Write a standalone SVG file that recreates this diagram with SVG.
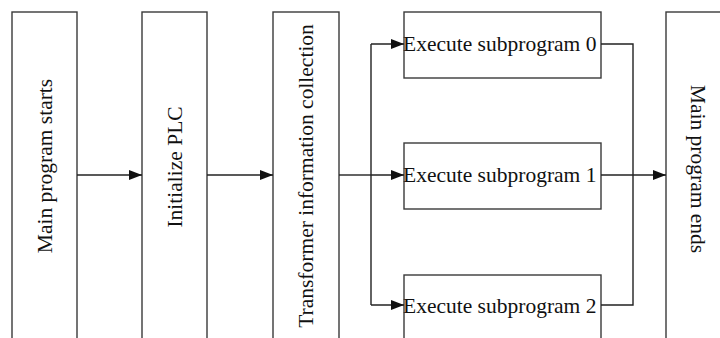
<svg xmlns="http://www.w3.org/2000/svg" width="720" height="338" viewBox="0 0 720 338">
<style>
.box{fill:#fff;stroke:#3a3a3a;stroke-width:1.4}
.t{font-family:"Liberation Serif","Times New Roman",serif;font-size:21.5px;fill:#111}
.c{fill:none;stroke:#222;stroke-width:1.4}
</style>
<defs>
<marker id="ah" markerWidth="14" markerHeight="10" refX="13" refY="5" orient="auto" markerUnits="userSpaceOnUse">
<path d="M0,0 L13,5 L0,10 Z" fill="#111"/>
</marker>
</defs>
<rect width="720" height="338" fill="#fff"/>
<g id="n-start">
<rect class="box" x="12" y="12" width="65" height="340"/>
<text class="t" text-anchor="middle" transform="translate(44.5,166) rotate(-90)" y="7">Main program starts</text>
</g>
<g id="n-init">
<rect class="box" x="142" y="12" width="65" height="340"/>
<text class="t" text-anchor="middle" transform="translate(174.5,167) rotate(-90)" y="7">Initialize PLC</text>
</g>
<g id="n-collect">
<rect class="box" x="273" y="12" width="66" height="340"/>
<text class="t" text-anchor="middle" transform="translate(306,176) rotate(-90)" y="7">Transformer information collection</text>
</g>
<g id="n-sub0">
<rect class="box" x="404" y="12" width="197" height="66"/>
<text class="t" x="403" y="51">Execute subprogram 0</text>
</g>
<g id="n-sub1">
<rect class="box" x="404" y="143" width="197" height="66"/>
<text class="t" x="403" y="182">Execute subprogram 1</text>
</g>
<g id="n-sub2">
<rect class="box" x="404" y="275" width="197" height="80"/>
<text class="t" x="403" y="313">Execute subprogram 2</text>
</g>
<g id="n-end">
<rect class="box" x="666" y="12" width="65" height="340"/>
<text class="t" text-anchor="middle" transform="translate(698.5,169) rotate(90)" y="8">Main program ends</text>
</g>
<g id="connectors">
<line class="c" x1="77" y1="175" x2="142" y2="175" marker-end="url(#ah)"/>
<line class="c" x1="207" y1="175" x2="273" y2="175" marker-end="url(#ah)"/>
<polyline class="c" points="339,175 371,175"/>
<polyline class="c" points="371,44 371,305"/>
<line class="c" x1="371" y1="44" x2="404" y2="44" marker-end="url(#ah)"/>
<line class="c" x1="371" y1="175" x2="404" y2="175" marker-end="url(#ah)"/>
<line class="c" x1="371" y1="305" x2="404" y2="305" marker-end="url(#ah)"/>
<polyline class="c" points="601,44 633,44 633,305 601,305"/>
<line class="c" x1="601" y1="175" x2="666" y2="175" marker-end="url(#ah)"/>
</g>
</svg>
